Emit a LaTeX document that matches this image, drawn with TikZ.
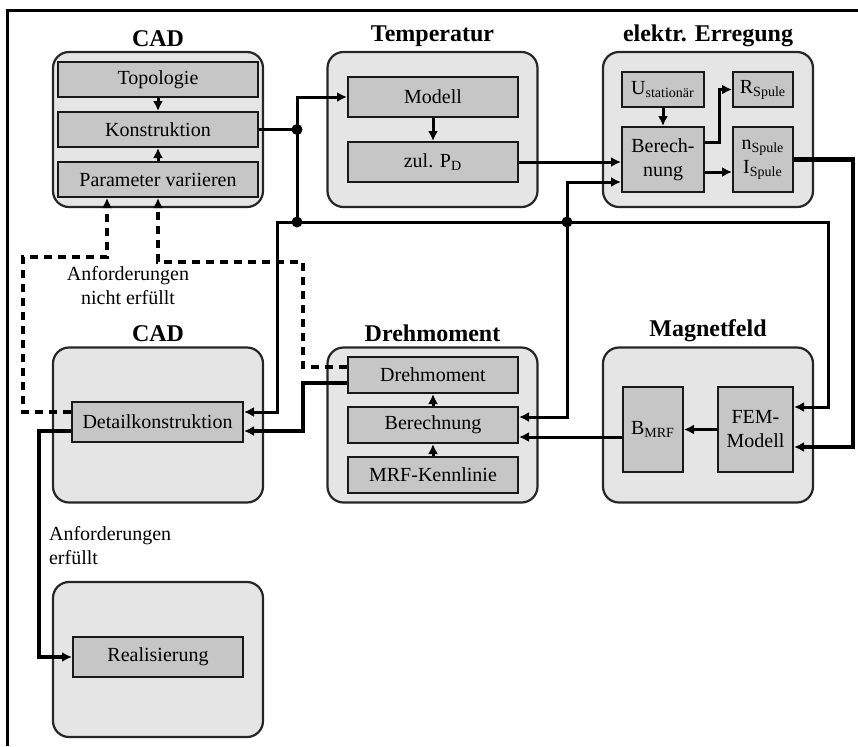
\documentclass[tikz,border=0pt]{standalone}
\usepackage{fontspec}
\setmainfont{Liberation Serif}
\usepackage{tikz}
\usetikzlibrary{positioning, arrows.meta}

\begin{document}
\begin{tikzpicture}[x=0.5pt, y=-0.5pt, >={Latex[length=5pt, width=5pt]},
    grp/.style={draw=black!85, fill=gray!20, line width=1.1pt, rounded corners=8pt,
        minimum width=105pt, minimum height=77.5pt},
    blk/.style={draw=black!90, fill=gray!45, line width=1pt, inner sep=1pt, align=center},
    ttl/.style={font=\large\bfseries, inner sep=1pt},
    con/.style={->, line width=1.5pt},
    thk/.style={->, line width=2.3pt},
    dsh/.style={->, line width=1.6pt, dash pattern=on 4pt off 3pt},
    jdot/.style={circle, fill, inner sep=0pt, minimum size=5.5pt}]
    \useasboundingbox (0,0) rectangle (858,746);
    \draw[line width=1.5pt] (7,746) -- (7,10) -- (858,10);

    % Gruppen
    \node[grp] (cadA) at (158,129.5) {};
    \node[grp] (temp) at (432.5,129.5) {};
    \node[grp] (erreg) at (708,129.5) {};
    \node[grp] (cadB) at (158,425) {};
    \node[grp] (dreh) at (432.5,425) {};
    \node[grp] (magn) at (708,425) {};
    \node[grp] (real) at (158,659.5) {};
    \node[ttl, above=1pt of cadA] {CAD};
    \node[ttl, above=1pt of temp] {Temperatur};
    \node[ttl, above=1pt of erreg] {elektr. Erregung};
    \node[ttl, above=1pt of cadB] {CAD};
    \node[ttl, above=1pt of dreh] {Drehmoment};
    \node[ttl, above=1pt of magn] {Magnetfeld};

    % CAD
    \node[blk, minimum width=100pt, minimum height=17.5pt] (topo) at (158,79.5) {Topologie};
    \node[blk, minimum width=100pt, minimum height=17.5pt] (konst) at (158,129.5) {Konstruktion};
    \node[blk, minimum width=100pt, minimum height=17.5pt] (param) at (158,179.5) {Parameter variieren};
    \draw[con] (topo) -- (konst);
    \draw[con] (param) -- (konst);

    % Temperatur
    \node[blk, minimum width=85pt, minimum height=20pt] (modell) at (433,97) {Modell};
    \node[blk, minimum width=85pt, minimum height=20pt] (zulpd) at (433,162) {zul. P\textsubscript{D}};
    \draw[con] (modell) -- (zulpd);

    % elektr. Erregung
    \node[blk, minimum width=41pt, minimum height=17.5pt] (ustat) at (663,89.5) {U\textsubscript{stationär}};
    \node[blk, minimum width=30pt, minimum height=17.5pt] (rsp) at (763,89.5) {R\textsubscript{Spule}};
    \node[blk, minimum width=41pt, minimum height=32.5pt] (berE) at (663,159.5) {Berech-\\nung};
    \node[blk, minimum width=30pt, minimum height=32.5pt] (nIsp) at (763,159.5) {n\textsubscript{Spule}\\I\textsubscript{Spule}};
    \draw[con] (ustat) -- (berE);
    \draw[con] ([yshift=8.75pt]berE.east) -- ++(7pt,0) |- (rsp.west);
    \draw[con] ([yshift=-6.25pt]berE.east) -- ([yshift=-6.25pt]nIsp.west);

    % CAD Detail
    \node[blk, minimum width=85.5pt, minimum height=20pt] (detail) at (157.5,422) {Detailkonstruktion};
    \node[blk, minimum width=85pt, minimum height=20pt] (realis) at (158,657) {Realisierung};

    % Drehmoment
    \node[blk, minimum width=85pt, minimum height=18pt] (drehB) at (433,375) {Drehmoment};
    \node[blk, minimum width=85pt, minimum height=18pt] (berD) at (433,425) {Berechnung};
    \node[blk, minimum width=85pt, minimum height=18pt] (mrf) at (433,475) {MRF-Kennlinie};
    \draw[con] (berD) -- (drehB);
    \draw[con] (mrf) -- (berD);

    % Magnetfeld
    \node[blk, minimum width=30pt, minimum height=42.5pt] (bmrf) at (653,429.5) {B\textsubscript{MRF}};
    \node[blk, minimum width=37.5pt, minimum height=42.5pt] (fem) at (755.5,429.5) {FEM-\\Modell};
    \draw[con] (fem) -- (bmrf);
    \draw[con] ([yshift=-3.75pt]bmrf.west) -- ([yshift=-6pt]berD.east);

    % Verbindungen
    \coordinate (j1) at (297,129.5);
    \coordinate (j2) at (297,222);
    \coordinate (j3) at (567,222);
    \coordinate (cL) at (277,222);
    \coordinate (cR) at (828,222);
    \coordinate (cR2) at (853,159.5);
    \coordinate (cM) at (303,383);
    \coordinate (cLL) at (39,431);
    \draw[line width=1.5pt] (konst.east) -- (j1);
    \draw[con] (j2) |- (modell.west);
    \draw[con] (zulpd.east) -- (berE.west |- zulpd.east);
    \draw[con] (j3) |- ([yshift=-11.25pt]berE.west);
    \draw[con] (j3) |- ([yshift=4pt]berD.east);
    \draw[con] (j2) -- (cL) |- ([yshift=5pt]detail.east);
    \draw[con] (j2) -- (cR) |- ([yshift=11.25pt]fem.east);
    \draw[thk] (nIsp.east) -- (cR2) |- ([yshift=-8.75pt]fem.east);
    \draw[thk] ([yshift=-4pt]drehB.west) -- (cM) |- ([yshift=-4.5pt]detail.east);
    \draw[thk] ([yshift=-4.5pt]detail.west) -- (cLL) |- (realis.west);
    \node[jdot] at (j1) {};
    \node[jdot] at (j2) {};
    \node[jdot] at (j3) {};

    % Anforderungen
    \coordinate (d1a) at (23,412);
    \coordinate (d1b) at (107,257);
    \coordinate (d2a) at (303,367);
    \coordinate (d2b) at (158,262);
    \draw[dsh] ([yshift=5pt]detail.west) -- (d1a) |- (d1b) -- ([xshift=-25.5pt]param.south);
    \draw[dsh] ([yshift=4pt]drehB.west) -- (d2a) |- (d2b) -- (param.south);
    \node[align=center] (nerf) at (128,286) {Anforderungen\\nicht erfüllt};
    \node[align=left, anchor=west] (erf) at (42,546) {Anforderungen\\erfüllt};
\end{tikzpicture}
\end{document}
